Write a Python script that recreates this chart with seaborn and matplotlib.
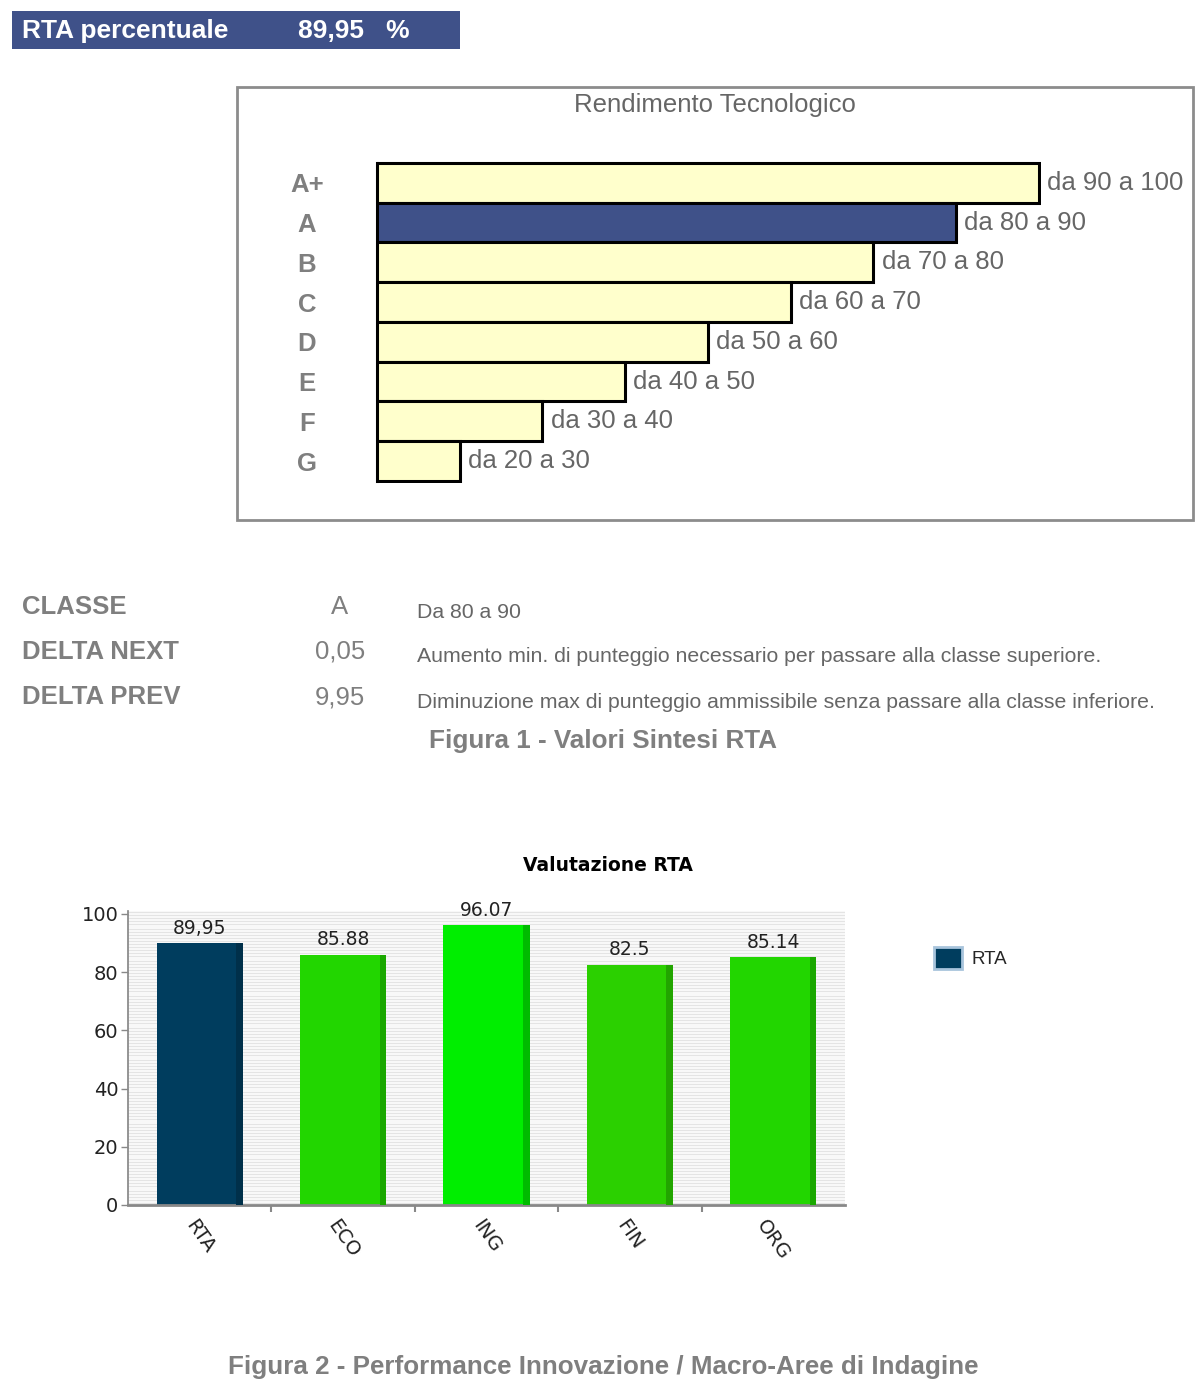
import numpy as np
import pandas as pd
import matplotlib
matplotlib.use("Agg")
import matplotlib.pyplot as plt
from matplotlib.patches import Rectangle, Patch
from matplotlib.ticker import MultipleLocator, FixedLocator
import seaborn as sns

sns.set_theme(style="white")
plt.rcParams["font.family"] = ["Liberation Sans", "DejaVu Sans"]

# ---- data ----
rta_value = 89.95
rta_class = "A"

classes = ["A+", "A", "B", "C", "D", "E", "F", "G"]
class_lower = [90, 80, 70, 60, 50, 40, 30, 20]
class_upper = [100, 90, 80, 70, 60, 50, 40, 30]

summary_labels = ["CLASSE", "DELTA NEXT", "DELTA PREV"]
summary_notes = [
    "Da 80 a 90",
    "Aumento min. di punteggio necessario per passare alla classe superiore.",
    "Diminuzione max di punteggio ammissibile senza passare alla classe inferiore.",
]

areas = ["RTA", "ECO", "ING", "FIN", "ORG"]
scores = [89.95, 85.88, 96.07, 82.5, 85.14]
score_labels = ["89,95", "85.88", "96.07", "82.5", "85.14"]
area_colors = ["#003D5E", "#22D600", "#00EE00", "#2BD000", "#22D600"]
area_shades = ["#00304A", "#1AA800", "#00BB00", "#22A500", "#1AA800"]

BLUE = "#3F5189"
YELLOW = "#FFFFCC"
GRAY = "#7F7F7F"
DGRAY = "#666666"

W, H = 1200, 1397
fig = plt.figure(figsize=(W / 100, H / 100), dpi=100)


def fx(px):
    return px / W


def fy(py):
    return 1 - py / H


# ---- banner ----
fig.patches.append(Rectangle((fx(12), fy(49)), fx(448), 38 / H, transform=fig.transFigure,
                             facecolor=BLUE, edgecolor="none"))
fig.text(fx(22), fy(31), "RTA percentuale", color="white", fontsize=19,
         fontweight="bold", va="center")
fig.text(fx(298), fy(31), f"{rta_value:.2f}".replace(".", ",") + "   %", color="white",
         fontsize=19, fontweight="bold", va="center")

# ---- class chart ----
fig.patches.append(Rectangle((fx(237), fy(520)), fx(956), 433 / H, transform=fig.transFigure,
                             facecolor="none", edgecolor="#8C8C8C", linewidth=2, zorder=-1))
fig.text(fx(715), fy(105), "Rendimento Tecnologico", color=DGRAY, fontsize=18.5,
         ha="center", va="center")

unit_h = 318 / 8
ax1 = fig.add_axes([fx(377), fy(481 + unit_h * 0.05), fx(1039 - 377) + 2 / W,
                    unit_h * 8.1 / H])
palette = [BLUE if c == rta_class else YELLOW for c in classes]
df_cls = pd.DataFrame({"classe": classes, "upper": class_upper})
sns.barplot(data=df_cls, x="upper", y="classe", hue="classe", palette=palette,
            legend=False, width=1.0, edgecolor="black", linewidth=2.2, ax=ax1,
            orient="h", saturation=1)
ax1.set_xlim(min(class_lower), max(class_upper) + 0.25)
ax1.set_ylim(7.55, -0.55)
for i, (lo, hi) in enumerate(zip(class_lower, class_upper)):
    ax1.text(hi + 1, i, f"da {lo} a {hi}", color=DGRAY, fontsize=18.5, va="center",
             ha="left", clip_on=False)
ax1.set_xlabel("")
ax1.set_ylabel("")
ax1.set_xticks([])
ax1.set_yticks(range(len(classes)))
ax1.set_yticklabels(classes, fontsize=18.5, fontweight="bold", color=GRAY)
ax1.tick_params(axis="y", length=0, pad=0)
for lab in ax1.get_yticklabels():
    lab.set_horizontalalignment("center")
    lab.set_x(-(377 - 307) / (1039 - 377))
for s in ["top", "right", "bottom"]:
    ax1.spines[s].set_visible(False)
ax1.spines["left"].set_color("black")
ax1.spines["left"].set_linewidth(2.2)
ax1.spines["left"].set_bounds(-0.5, len(classes) - 0.5)
ax1.set_facecolor("none")

# ---- summary table ----
cls_idx = classes.index(rta_class)
delta_next = class_upper[cls_idx] - rta_value
delta_prev = rta_value - class_lower[cls_idx]
summary_values = [rta_class, f"{delta_next:.2f}".replace(".", ","),
                  f"{delta_prev:.2f}".replace(".", ",")]
for k, (lab, val, note) in enumerate(zip(summary_labels, summary_values, summary_notes)):
    yy = 607 + 45 * k
    fig.text(fx(22), fy(yy), lab, color=GRAY, fontsize=18.5, fontweight="bold", va="center")
    fig.text(fx(340), fy(yy), val, color=GRAY, fontsize=18.5, ha="center", va="center")
    fig.text(fx(417), fy(yy + 5), note, color=DGRAY, fontsize=15.3, va="center")
fig.text(fx(603), fy(741), "Figura 1 - Valori Sintesi RTA", color=GRAY, fontsize=18.8,
         fontweight="bold", ha="center", va="center")

# ---- RTA evaluation chart ----
ax2 = fig.add_axes([fx(128), fy(1205), fx(717), 294 / H])
df_area = pd.DataFrame({"area": areas, "score": scores})
sns.barplot(data=df_area, x="area", y="score", hue="area", palette=area_colors,
            legend=False, width=0.6, saturation=1, ax=ax2, linewidth=0)
bars = list(ax2.patches)
strip_w = 0.045
ax2.bar([b.get_x() + b.get_width() - strip_w / 2 for b in bars], scores, width=strip_w,
        color=area_shades, zorder=3, linewidth=0)
xs = np.arange(len(areas))
for x, v, t in zip(xs, scores, score_labels):
    ax2.annotate(t, (x, v), xytext=(0, 4), textcoords="offset points", ha="center",
                 va="bottom", fontsize=13.5, family="DejaVu Sans", color="#222222")
ax2.set_xlim(-0.5, len(areas) - 0.5)
ax2.set_ylim(0, 101)
ax2.set_facecolor("#E4E4E4")
ax2.yaxis.set_major_locator(FixedLocator([0, 20, 40, 60, 80, 100]))
ax2.yaxis.set_minor_locator(MultipleLocator(1))
ax2.grid(which="both", axis="y", color="white", linewidth=1.1)
ax2.set_axisbelow(True)
ax2.xaxis.set_minor_locator(FixedLocator(xs[1:] - 0.5))
ax2.set_xticks(xs)
ax2.set_xticklabels(areas, rotation=-55, ha="center", va="top", fontsize=14,
                    family="DejaVu Sans", color="#222222")
ax2.set_yticklabels(["0", "20", "40", "60", "80", "100"], fontsize=14,
                    family="DejaVu Sans", color="#222222")
ax2.tick_params(axis="x", which="major", length=0, pad=8)
ax2.tick_params(axis="x", which="minor", length=5, color="#888888", width=1.5, bottom=True)
ax2.tick_params(axis="y", which="major", length=5, color="#888888", width=1, left=True, pad=2)
ax2.tick_params(axis="y", which="minor", length=0)
ax2.set_xlabel("")
ax2.set_ylabel("")
for s in ["top", "right"]:
    ax2.spines[s].set_visible(False)
ax2.spines["left"].set_color("#888888")
ax2.spines["bottom"].set_color("#888888")
ax2.spines["bottom"].set_linewidth(2)
ax2.set_title("Valutazione RTA", fontsize=13.5, fontweight="bold", family="DejaVu Sans",
              color="black", pad=29, x=(608 - 128) / 717)

fig.legend(handles=[Patch(facecolor=area_colors[0], edgecolor="#A8C4DC", linewidth=2,
                          label="RTA")],
           loc="center left", bbox_to_anchor=(fx(917), fy(958)), frameon=False,
           fontsize=13.5, handlelength=1.5, handleheight=1.5, handletextpad=0.5)

fig.text(fx(603), fy(1367), "Figura 2 - Performance Innovazione / Macro-Aree di Indagine",
         color=GRAY, fontsize=18.7, fontweight="bold", ha="center", va="center")

fig.savefig("out.png", dpi=100, facecolor="white")
